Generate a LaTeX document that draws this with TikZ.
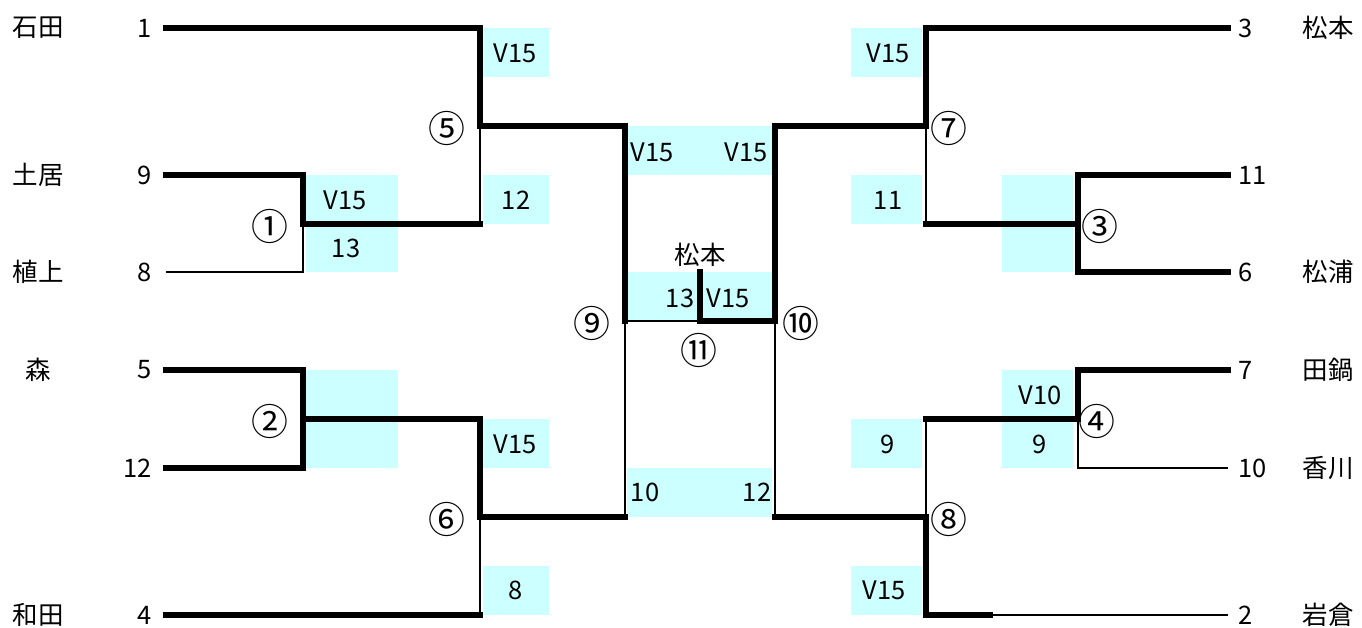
\documentclass[tikz,border=0pt]{standalone}
\usepackage{fontspec}
\setmainfont{Noto Sans CJK JP}
\usepackage{tikz}
\usepackage{xcolor}
\definecolor{scorebg}{HTML}{CCFFFF}

\begin{document}
\begin{tikzpicture}[x=0.02cm,y=-0.02cm,
    font=\fontsize{14.5}{16}\selectfont,
    win/.style={line width=3.4pt,line cap=rect,line join=miter},
    lose/.style={line width=1.1pt},
    seedL/.style={anchor=east,inner xsep=8pt},
    seedR/.style={anchor=west,inner xsep=5.5pt},
    matchno/.style={font=\fontsize{21}{24}\selectfont}]
        \useasboundingbox (0,0) rectangle (1362,628);

        %------------------
        % 得点欄の塗り
        %------------------

        % 左側
        \fill[scorebg] (306,175) rectangle (398,272);
        \fill[scorebg] (306,370) rectangle (398,468);
        \fill[scorebg] (483,28) rectangle (549,77);
        \fill[scorebg] (483,175) rectangle (549,224);
        \fill[scorebg] (483,419) rectangle (549,468);
        \fill[scorebg] (483,566) rectangle (549,615);
        % 中央
        \fill[scorebg] (627,126) rectangle (772,175);
        \fill[scorebg] (627,272) rectangle (772,321);
        \fill[scorebg] (627,468) rectangle (772,517);
        % 右側
        \fill[scorebg] (851,28) rectangle (922,77);
        \fill[scorebg] (851,175) rectangle (922,224);
        \fill[scorebg] (1002,175) rectangle (1073,272);
        \fill[scorebg] (1002,370) rectangle (1073,468);
        \fill[scorebg] (851,419) rectangle (922,468);
        \fill[scorebg] (851,566) rectangle (922,615);

        %------------------
        % 選手名と番号
        %------------------

        \node (nlA) at (38,28) {石田};
        \node (nlB) at (38,175) {土居};
        \node (nlC) at (38,272) {植上};
        \node (nlD) at (38,370) {森};
        \node (nlF) at (38,615) {和田};
        \node[seedL] (lA) at (166,28) {1};
        \node[seedL] (lB) at (166,175) {9};
        \node[seedL] (lC) at (166,272) {8};
        \node[seedL] (lD) at (166,370) {5};
        \node[seedL] (lE) at (166,468) {12};
        \node[seedL] (lF) at (166,615) {4};

        \node (nrA) at (1328,28) {松本};
        \node (nrC) at (1328,272) {松浦};
        \node (nrD) at (1328,370) {田鍋};
        \node (nrE) at (1328,468) {香川};
        \node (nrF) at (1328,615) {岩倉};
        \node[seedR] (rA) at (1228,28) {3};
        \node[seedR] (rB) at (1228,175) {11};
        \node[seedR] (rC) at (1228,272) {6};
        \node[seedR] (rD) at (1228,370) {7};
        \node[seedR] (rE) at (1228,468) {10};
        \node[seedR] (rF) at (1228,615) {2};

        %------------------
        % 試合の位置
        %------------------

        \coordinate (m1) at (303,224);
        \coordinate (m2) at (303,419);
        \coordinate (m5) at (480,126);
        \coordinate (m6) at (480,517);
        \coordinate (m9) at (625,321);
        \coordinate (m3) at (1078,224);
        \coordinate (m4) at (1078,419);
        \coordinate (m7) at (926,126);
        \coordinate (m8) at (926,517);
        \coordinate (m10) at (775,321);
        \coordinate (m11) at (700,321);
        \coordinate (fin) at (700,272);
        \coordinate (cut) at (990,615);

        %------------------
        % 線（負けは細線）
        %------------------

        \draw[lose] (lC.east) -| (m1);
        \draw[lose] (m5) -- (m5 |- m1);
        \draw[lose] (m6) -- (m6 |- lF);
        \draw[lose] (m9) -- (m9 |- m6);
        \draw[lose] (m9) -- (m11);
        \draw[lose] (m7) -- (m7 |- m3);
        \draw[lose] (rE.west) -| (m4);
        \draw[lose] (m8) -- (m8 |- m4);
        \draw[lose] (cut) -- (rF.west);
        \draw[lose] (m10) -- (m10 |- m8);

        % 勝ち上がり（太線）
        \draw[win] (lA.east) -| (m5);
        \draw[win] (lB.east) -| (m1);
        \draw[win] (m1) -- (m5 |- m1);
        \draw[win] (lD.east) -| (m2);
        \draw[win] (lE.east) -| (m2);
        \draw[win] (m2) -| (m6);
        \draw[win] (lF.east) -- (m6 |- lF);
        \draw[win] (m5) -| (m9);
        \draw[win] (m6) -- (m9 |- m6);

        \draw[win] (rA.west) -| (m7);
        \draw[win] (rB.west) -| (m3);
        \draw[win] (rC.west) -| (m3);
        \draw[win] (m3) -- (m7 |- m3);
        \draw[win] (rD.west) -| (m4);
        \draw[win] (m4) -- (m8 |- m4);
        \draw[win] (m8) -- (m8 |- rF) -- (cut);
        \draw[win] (m7) -| (m10);
        \draw[win] (m8) -- (m10 |- m8);

        \draw[win] (m10) -- (m11) -- (fin);

        %------------------
        % 試合番号
        %------------------

        \node[matchno] (c1) at (270,226) {①};
        \node[matchno] (c2) at (270,421) {②};
        \node[matchno] (c5) at (447,128) {⑤};
        \node[matchno] (c6) at (447,519) {⑥};
        \node[matchno] (c9) at (592,323) {⑨};
        \node[matchno] (c11) at (699,350) {⑪};
        \node[matchno] (c10) at (801,323) {⑩};
        \node[matchno] (c7) at (949,128) {⑦};
        \node[matchno] (c8) at (949,519) {⑧};
        \node[matchno] (c3) at (1100,226) {③};
        \node[matchno] (c4) at (1097,421) {④};
        \node (champ) at (700,255) {松本};

        %------------------
        % 得点
        %------------------

        \node (p1u) at (345,200) {V15};
        \node (p1d) at (346,248) {13};
        \node (p5u) at (515,53) {V15};
        \node (p5d) at (516,200) {12};
        \node (p6u) at (515,444) {V15};
        \node (p6d) at (516,590) {8};
        \node (p9u) at (652,152) {V15};
        \node (p10u) at (746,152) {V15};
        \node (p11l) at (680,298) {13};
        \node (p11r) at (728,298) {V15};
        \node (p9d) at (645,492) {10};
        \node (p10d) at (757,492) {12};
        \node (p7u) at (888,53) {V15};
        \node (p7d) at (888,200) {11};
        \node (p4u) at (1040,395) {V10};
        \node (p4d) at (1040,444) {9};
        \node (p8u) at (888,444) {9};
        \node (p8d) at (884,590) {V15};
      \end{tikzpicture}
\end{document}
